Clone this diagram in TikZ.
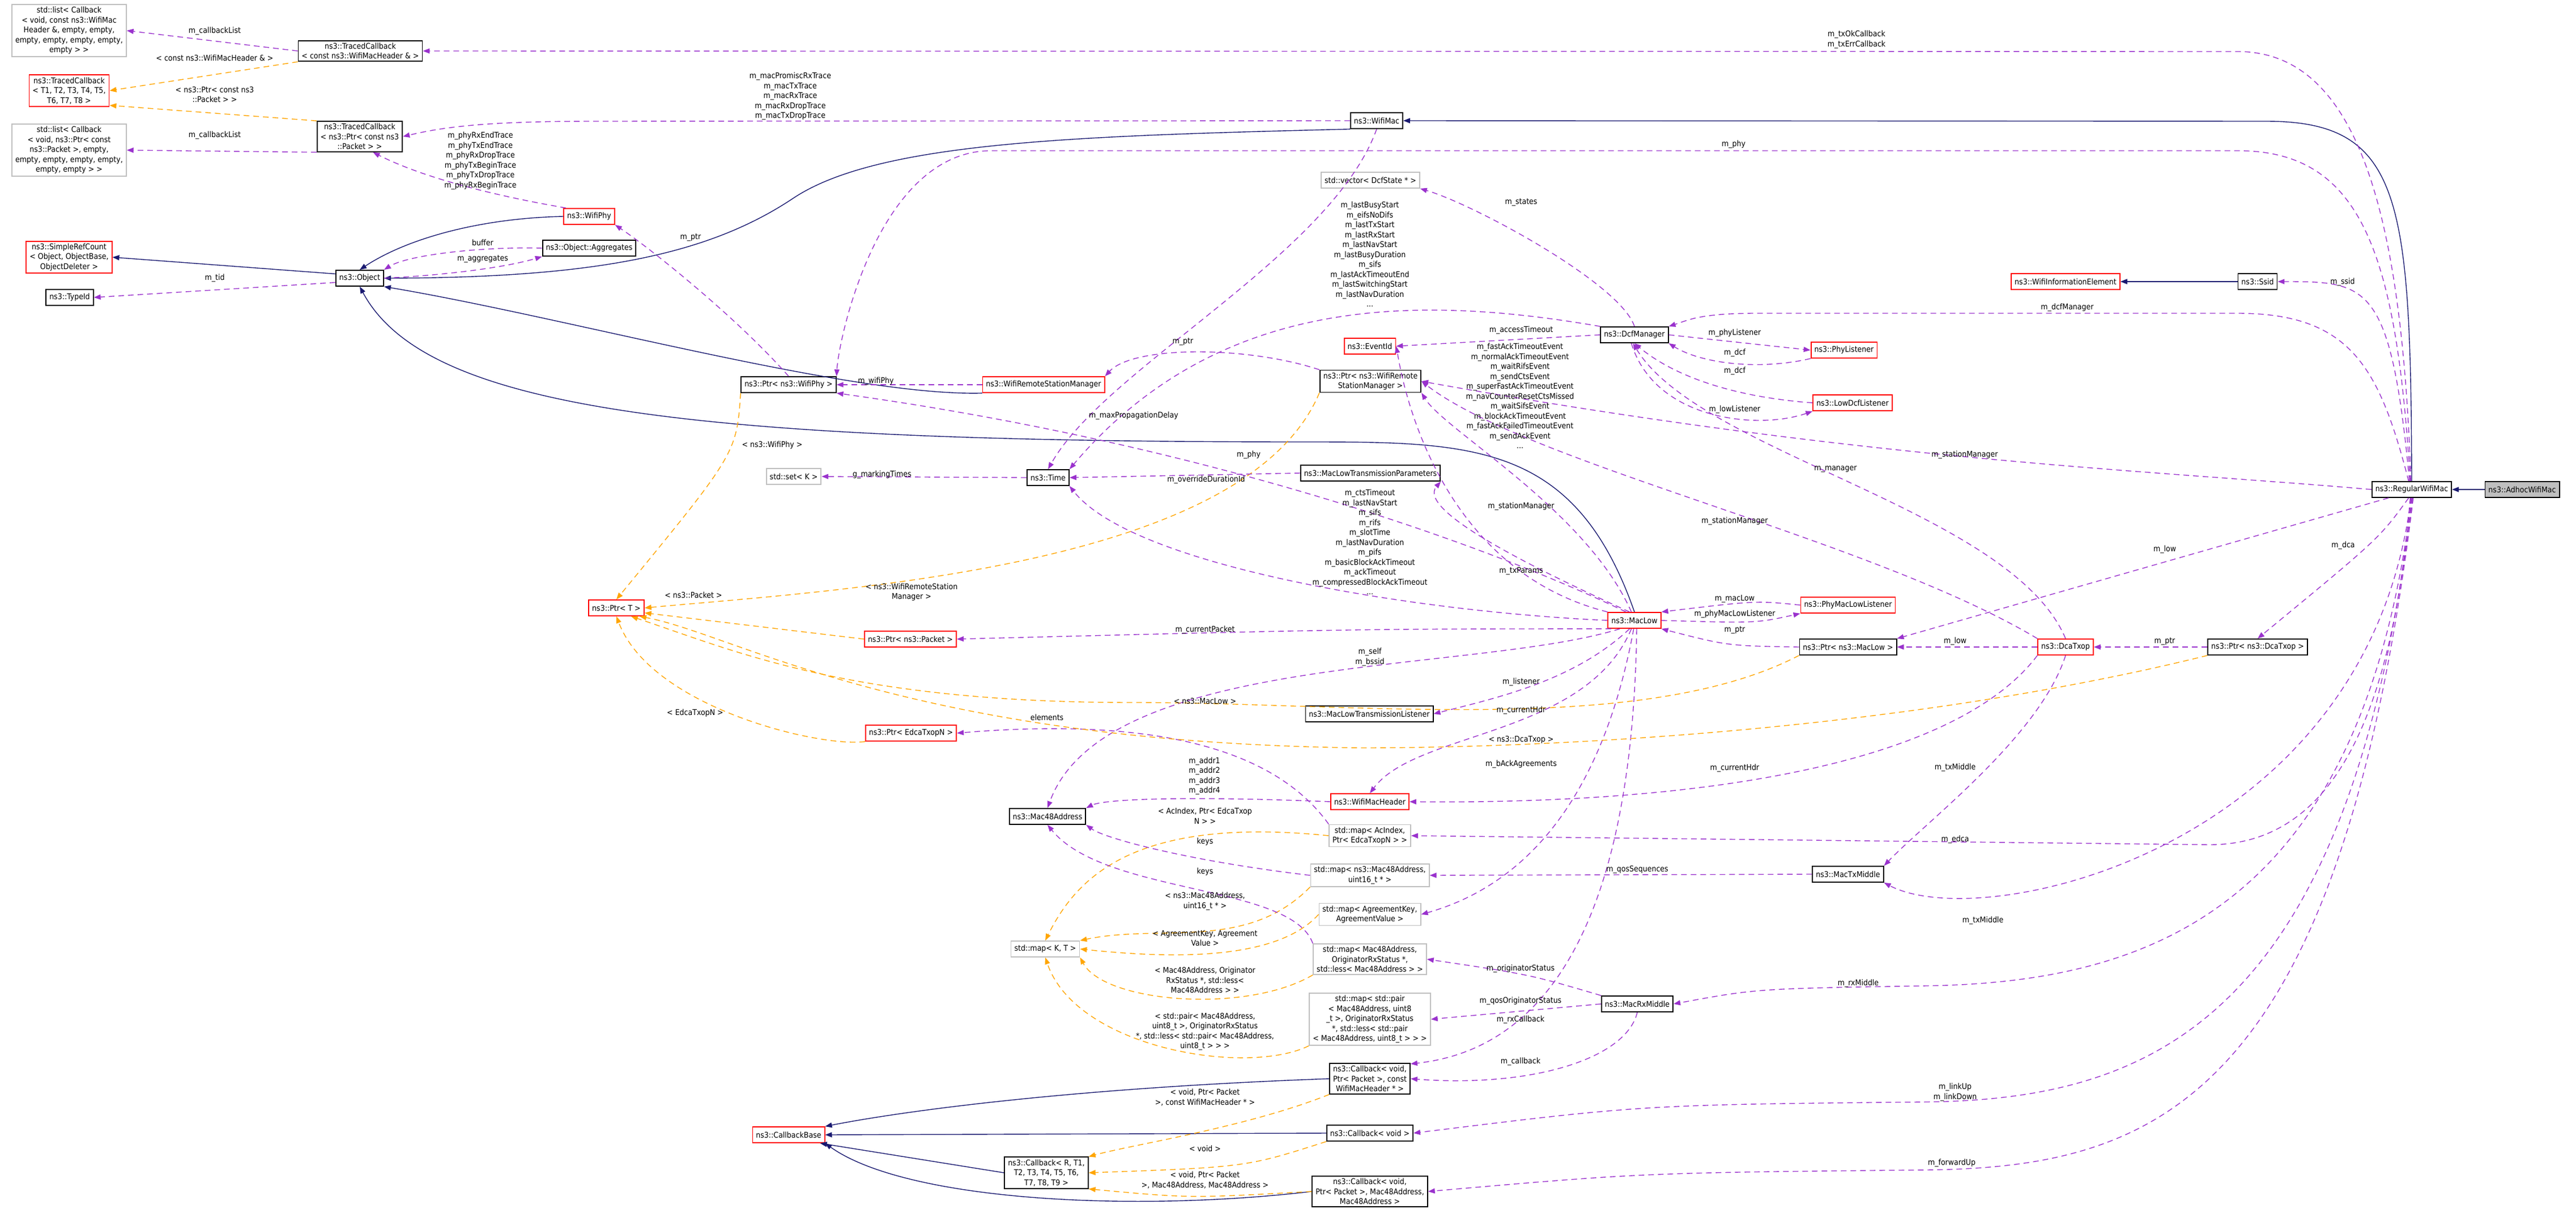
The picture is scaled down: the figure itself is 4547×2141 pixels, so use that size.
\documentclass[tikz,border=0pt]{standalone}
\usepackage{fontspec}
\setmainfont{DejaVu Sans Condensed}
\usetikzlibrary{arrows.meta}
\definecolor{pur}{HTML}{9A32CD}
\definecolor{org}{HTML}{FFA500}
\definecolor{nav}{HTML}{191970}
\definecolor{grb}{HTML}{BFBFBF}
\newcommand{\fs}{\fontsize{7}{8.75}\selectfont}
\tikzset{
 box/.style={draw=black, line width=0.9pt, fill=white, rectangle, align=center, inner xsep=3pt, inner ysep=2pt, minimum height=14pt, font=\fs},
 rbox/.style={box, draw=red},
 gbox/.style={box, draw=grb},
 lbl/.style={align=center, font=\fs, inner sep=0pt},
 tip/.style={-{Triangle[length=6pt,width=4.5pt]}},
 pe/.style={draw=pur, line width=0.7pt, dash pattern=on 5pt off 3.5pt, tip},
 oe/.style={pe, draw=org},
 ie/.style={draw=nav, line width=0.7pt, tip}
}
\begin{document}
\begin{tikzpicture}[x=0.5pt,y=-0.5pt]
\useasboundingbox (0,0) rectangle (4547,2141);
% nodes
\node[gbox] (lista) at (122,54) {std::list< Callback\\< void, const ns3::WifiMac\\Header \&, empty, empty,\\ empty, empty, empty, empty,\\ empty > >};
\node[box] (tca) at (636,90) {ns3::TracedCallback\\< const ns3::WifiMacHeader \& >};
\node[rbox] (tct) at (122,160) {ns3::TracedCallback\\< T1, T2, T3, T4, T5,\\ T6, T7, T8 >};
\node[gbox] (listb) at (122,265) {std::list< Callback\\< void, ns3::Ptr< const\\ ns3::Packet >, empty,\\ empty, empty, empty, empty,\\ empty, empty > >};
\node[box] (tcp) at (635,241) {ns3::TracedCallback\\< ns3::Ptr< const ns3\\::Packet > >};
\node[rbox] (src) at (122,454) {ns3::SimpleRefCount\\< Object, ObjectBase,\\ ObjectDeleter >};
\node[box] (object) at (635,491) {ns3::Object};
\node[box] (typeid) at (123,525) {ns3::TypeId};
\node[rbox] (wifiphy) at (1040,382) {ns3::WifiPhy};
\node[box] (agg) at (1040,438) {ns3::Object::Aggregates};
\node[box] (wifimac) at (2430,213) {ns3::WifiMac};
\node[box] (ptrwifiphy) at (1392,679) {ns3::Ptr< ns3::WifiPhy >};
\node[rbox] (wrsm) at (1842,679) {ns3::WifiRemoteStationManager};
\node[gbox] (set) at (1401,841) {std::set< K >};
\node[box] (time) at (1850,843) {ns3::Time};
\node[rbox] (ptrt) at (1088,1073) {ns3::Ptr< T >};
\node[rbox] (ptrpacket) at (1607,1128) {ns3::Ptr< ns3::Packet >};
\node[rbox] (ptredca) at (1608,1294) {ns3::Ptr< EdcaTxopN >};
\node[gbox] (vector) at (2419,318) {std::vector< DcfState * >};
\node[box] (dcf) at (2885,591) {ns3::DcfManager};
\node[rbox] (eventid) at (2418,611) {ns3::EventId};
\node[rbox] (phylis) at (3255,618) {ns3::PhyListener};
\node[rbox] (lowdcf) at (3270,711) {ns3::LowDcfListener};
\node[box] (ptrwrsm) at (2419,673) {ns3::Ptr< ns3::WifiRemote\\StationManager >};
\node[box] (mltp) at (2419,835) {ns3::MacLowTransmissionParameters};
\node[rbox] (maclow) at (2885,1095) {ns3::MacLow};
\node[rbox] (pmll) at (3262,1068) {ns3::PhyMacLowListener};
\node[box] (ptrmaclow) at (3262,1142) {ns3::Ptr< ns3::MacLow >};
\node[box] (mltl) at (2417,1260) {ns3::MacLowTransmissionListener};
\node[rbox] (wmh) at (2418,1415) {ns3::WifiMacHeader};
\node[box] (mac48) at (1849,1441) {ns3::Mac48Address};
\node[gbox] (mapac) at (2418,1475) {std::map< AcIndex,\\Ptr< EdcaTxopN > >};
\node[gbox] (mapmac) at (2418,1545) {std::map< ns3::Mac48Address,\\uint16\_t * >};
\node[gbox] (mapagr) at (2418,1614) {std::map< AgreementKey,\\AgreementValue >};
\node[gbox] (mapkt) at (1845,1675) {std::map< K, T >};
\node[gbox] (maporig) at (2418,1693) {std::map< Mac48Address,\\OriginatorRxStatus *,\\std::less< Mac48Address > >};
\node[gbox] (mappair) at (2418,1799) {std::map< std::pair\\< Mac48Address, uint8\\\_t >, OriginatorRxStatus\\ *, std::less< std::pair\\< Mac48Address, uint8\_t > > >};
\node[box] (macrx) at (2890,1772) {ns3::MacRxMiddle};
\node[box] (cba) at (2418,1904) {ns3::Callback< void,\\Ptr< Packet >, const\\WifiMacHeader * >};
\node[box] (cbv) at (2418,2000) {ns3::Callback< void >};
\node[box] (cbrt) at (1847,2070) {ns3::Callback< R, T1,\\T2, T3, T4, T5, T6,\\T7, T8, T9 >};
\node[box] (cbm) at (2418,2103) {ns3::Callback< void,\\Ptr< Packet >, Mac48Address,\\Mac48Address >};
\node[rbox] (cbbase) at (1392,2003) {ns3::CallbackBase};
\node[rbox] (dcatxop) at (3646,1142) {ns3::DcaTxop};
\node[box] (ptrdcatxop) at (3985,1142) {ns3::Ptr< ns3::DcaTxop >};
\node[box] (mactx) at (3262,1543) {ns3::MacTxMiddle};
\node[box] (rwm) at (4257,864) {ns3::RegularWifiMac};
\node[box, fill=grb] (adhoc) at (4452,864) {ns3::AdhocWifiMac};
\node[rbox] (wie) at (3646,497) {ns3::WifiInformationElement};
\node[box] (ssid) at (3985,497) {ns3::Ssid};
% inheritance
\draw[ie] (adhoc) -- (rwm);
\draw[ie] (ssid) -- (wie);
\draw[ie] (rwm.north) .. controls (4255,350) and (4240,214) .. (4000,214) -- (wifimac.east);
\draw[ie] (object.170) -- (src.east);
\draw[ie] (wifiphy.west) .. controls (850,385) and (720,420) .. (object.north);
\draw[ie] (wifimac.south west) .. controls (1900,240) and (1550,250) .. (1400,350) .. controls (1250,450) and (1050,490) .. (object.east);
\draw[ie] (wrsm.south west) .. controls (1500,700) and (1000,560) .. (object.south east);
\draw[ie] (maclow.north) .. controls (2780,780) and (2600,780) .. (2300,780) .. controls (1200,780) and (750,720) .. (object.south);
\draw[ie] (cba.west) .. controls (1900,1920) and (1600,1960) .. (cbbase.north east);
\draw[ie] (cbv.west) -- (cbbase.east);
\draw[ie] (cbm.west) .. controls (2000,2140) and (1600,2120) .. (cbbase.south east);
\draw[ie] (cbrt.west) -- (cbbase.-15);
% top-left
\draw[pe] (tca.west) -- (lista.east);
\draw[oe] (tca.south west) -- (tct.east);
\draw[oe] (tcp.160) -- (tct.-20);
\draw[pe] (tcp.200) -- (listb.east);
\draw[pe] (object.190) -- (typeid.east);
\draw[pe] (object.east) .. controls (800,485) and (900,470) .. (agg.south west);
\draw[pe] (agg.west) .. controls (850,435) and (720,450) .. (object.north east);
\draw[pe] (wifimac.west) -- (1050,214) .. controls (850,214) and (780,225) .. (tcp.east);
\draw[pe] (wifiphy.160) .. controls (900,350) and (760,320) .. (tcp.-50);
% RWM edges
\draw[pe] (rwm.95) .. controls (4240,400) and (4170,91) .. (3950,91) -- (tca.east);
\draw[pe] (rwm.100) .. controls (4230,450) and (4170,266) .. (3950,266) -- (1750,266) .. controls (1550,266) and (1480,600) .. (ptrwifiphy.north east);
\draw[pe] (rwm.105) .. controls (4220,500) and (4180,497) .. (ssid.east);
\draw[pe] (rwm.110) .. controls (4200,650) and (4150,553) .. (3950,553) -- (3100,553) .. controls (3000,553) and (2980,565) .. (dcf.north east);
\draw[pe] (rwm.west) .. controls (3800,830) and (3300,815) .. (ptrwrsm.east);
\draw[pe] (rwm.200) -- (ptrmaclow.north east);
\draw[pe] (rwm.250) .. controls (4200,950) .. (ptrdcatxop.north);
\draw[pe] (rwm.260) .. controls (4220,1300) and (4100,1491) .. (3900,1491) -- (mapac.east);
\draw[pe] (rwm.265) .. controls (4180,1500) and (3500,1650) .. (mactx.south east);
\draw[pe] (rwm.270) .. controls (4170,1600) and (3800,1734) .. (3400,1740) .. controls (3100,1745) .. (macrx.east);
\draw[pe] (rwm.275) .. controls (4150,1800) and (3800,1940) .. (3400,1945) .. controls (2900,1950) .. (cbv.east);
\draw[pe] (rwm.280) .. controls (4130,1950) and (3800,2060) .. (3400,2065) .. controls (2900,2070) .. (cbm.east);
% DcfManager
\draw[pe] (dcf.north) .. controls (2860,500) and (2600,360) .. (vector.south east);
\draw[pe] (dcf.north west) .. controls (2500,520) and (2150,520) .. (time.north east);
\draw[pe] (dcf.west) -- (eventid.east);
\draw[pe] (dcf.east) -- (phylis.west);
\draw[pe] (phylis.south west) .. controls (3100,655) and (3000,640) .. (dcf.south east);
\draw[pe] (lowdcf.west) .. controls (3050,700) and (2950,660) .. (dcf.south);
\draw[pe] (dcf.250) .. controls (2920,740) and (3100,760) .. (lowdcf.south west);
\draw[pe] (dcatxop.north) .. controls (3550,900) and (3000,800) .. (dcf.260);
% MacLow
\draw[pe] (maclow.north west) .. controls (2520,1000) and (2470,640) .. (eventid.east);
\draw[pe] (maclow.120) .. controls (2700,1000) and (2500,900) .. (mltp.south east);
\draw[pe] (maclow.110) .. controls (2800,900) and (2550,760) .. (ptrwrsm.south east);
\draw[pe] (dcatxop.north west) .. controls (3300,950) and (2700,820) .. (ptrwrsm.east);
\draw[pe] (maclow.135) .. controls (2600,950) and (2100,780) .. (ptrwifiphy.south east);
\draw[pe] (maclow.west) .. controls (2500,1080) and (2000,1000) .. (time.south east);
\draw[pe] (maclow.200) .. controls (2400,1110) .. (ptrpacket.east);
\draw[pe] (maclow.210) .. controls (2600,1190) and (1950,1150) .. (mac48.north);
\draw[pe] (maclow.240) .. controls (2780,1200) and (2650,1230) .. (mltl.east);
\draw[pe] (maclow.250) .. controls (2800,1300) and (2500,1290) .. (wmh.north);
\draw[pe] (maclow.265) .. controls (2830,1400) and (2700,1560) .. (mapagr.east);
\draw[pe] (maclow.285) .. controls (2880,1750) and (2650,1860) .. (cba.20);
\draw[pe] (pmll.west) .. controls (3100,1060) .. (maclow.north east);
\draw[pe] (maclow.east) .. controls (3100,1100) .. (pmll.south west);
\draw[pe] (ptrmaclow.west) .. controls (3050,1140) .. (maclow.south east);
\draw[pe] (dcatxop.west) -- (ptrmaclow.east);
\draw[pe] (ptrdcatxop.west) -- (dcatxop.east);
\draw[pe] (dcatxop.south west) .. controls (3450,1350) and (3000,1420) .. (wmh.east);
\draw[pe] (dcatxop.south) .. controls (3600,1300) and (3400,1450) .. (mactx.north east);
\draw[pe] (mactx.west) -- (mapmac.east);
\draw[pe] (macrx.north west) .. controls (2700,1720) .. (maporig.east);
\draw[pe] (macrx.west) -- (mappair.east);
\draw[pe] (macrx.south) .. controls (2870,1870) and (2700,1920) .. (cba.east);
% maps
\draw[oe] (mapac.west) .. controls (2000,1440) and (1900,1550) .. (mapkt.north);
\draw[oe] (mapmac.south west) .. controls (2200,1680) and (2050,1630) .. (mapkt.north east);
\draw[oe] (mapagr.west) .. controls (2250,1700) and (2050,1690) .. (mapkt.east);
\draw[oe] (maporig.south west) .. controls (2200,1790) and (1950,1770) .. (mapkt.south east);
\draw[oe] (mappair.south west) .. controls (2200,1900) and (1900,1850) .. (mapkt.south);
\draw[pe] (mapmac.west) .. controls (2100,1520) and (1950,1480) .. (mac48.south east);
\draw[pe] (maporig.north west) .. controls (2280,1560) and (1950,1580) .. (mac48.south);
\draw[pe] (wmh.west) .. controls (2100,1405) and (1950,1410) .. (mac48.north east);
\draw[pe] (mapac.north west) .. controls (2270,1350) and (2100,1260) .. (ptredca.east);
\draw[oe] (cba.south west) .. controls (2200,1990) and (2000,2020) .. (cbrt.north east);
\draw[oe] (cbv.south west) .. controls (2200,2060) .. (cbrt.east);
\draw[oe] (cbm.west) .. controls (2100,2115) .. (cbrt.south east);
% Ptr<T>
\draw[oe] (ptrwifiphy.south west) .. controls (1300,800) .. (ptrt.north);
\draw[oe] (ptrwrsm.south west) .. controls (2200,1000) and (1500,1040) .. (ptrt.east);
\draw[oe] (ptrpacket.west) -- (ptrt.-10);
\draw[oe] (ptredca.south west) .. controls (1450,1320) and (1150,1250) .. (ptrt.south);
\draw[oe] (ptrmaclow.south west) .. controls (2900,1300) and (2400,1240) .. (2000,1240) .. controls (1500,1240) and (1300,1150) .. (ptrt.-30);
\draw[oe] (ptrdcatxop.south west) .. controls (3400,1280) and (2800,1320) .. (2400,1320) .. controls (1600,1310) and (1300,1120) .. (ptrt.-20);
% others
\draw[pe] (wrsm.west) -- (ptrwifiphy.east);
\draw[pe] (ptrwifiphy.north) .. controls (1300,560) and (1150,440) .. (wifiphy.south east);
\draw[pe] (ptrwrsm.north west) .. controls (2200,610) and (2000,610) .. (wrsm.north east);
\draw[pe] (wifimac.south) .. controls (2350,450) and (1950,650) .. (time.north);
\draw[pe] (time.west) -- (set.east);
\draw[pe] (mltp.west) -- (time.east);
% labels
\node[lbl] (l1) at (379,55) {m\_callbackList};
\node[lbl] (l2) at (379,102) {< const ns3::WifiMacHeader \& >};
\node[lbl] (l3) at (379,167) {< ns3::Ptr< const ns3\\::Packet > >};
\node[lbl] (l4) at (379,239) {m\_callbackList};
\node[lbl] (l5) at (852,428) {buffer};
\node[lbl] (l6) at (852,457) {m\_aggregates};
\node[lbl] (l7) at (379,491) {m\_tid};
\node[lbl] (l8) at (1395,170) {m\_macPromiscRxTrace\\m\_macTxTrace\\m\_macRxTrace\\m\_macRxDropTrace\\m\_macTxDropTrace};
\node[lbl] (l9) at (848,284) {m\_phyRxEndTrace\\m\_phyTxEndTrace\\m\_phyRxDropTrace\\m\_phyTxBeginTrace\\m\_phyTxDropTrace\\m\_phyRxBeginTrace};
\node[lbl] (l10) at (1219,419) {m\_ptr};
\node[lbl] (l11) at (3277,70) {m\_txOkCallback\\m\_txErrCallback};
\node[lbl] (l12) at (3060,255) {m\_phy};
\node[lbl] (l13) at (3649,543) {m\_dcfManager};
\node[lbl] (l14) at (4135,498) {m\_ssid};
\node[lbl] (l15) at (2685,357) {m\_states};
\node[lbl] (l16) at (2418,449) {m\_lastBusyStart\\m\_eifsNoDifs\\m\_lastTxStart\\m\_lastRxStart\\m\_lastNavStart\\m\_lastBusyDuration\\m\_sifs\\m\_lastAckTimeoutEnd\\m\_lastSwitchingStart\\m\_lastNavDuration\\...};
\node[lbl] (l17) at (2685,583) {m\_accessTimeout};
\node[lbl] (l18) at (2683,699) {m\_fastAckTimeoutEvent\\m\_normalAckTimeoutEvent\\m\_waitRifsEvent\\m\_sendCtsEvent\\m\_superFastAckTimeoutEvent\\m\_navCounterResetCtsMissed\\m\_waitSifsEvent\\m\_blockAckTimeoutEvent\\m\_fastAckFailedTimeoutEvent\\m\_sendAckEvent\\...};
\node[lbl] (l19) at (3062,588) {m\_phyListener};
\node[lbl] (l20) at (3062,623) {m\_dcf};
\node[lbl] (l21) at (3062,655) {m\_dcf};
\node[lbl] (l22) at (3062,723) {m\_lowListener};
\node[lbl] (l23) at (3240,828) {m\_manager};
\node[lbl] (l24) at (3468,803) {m\_stationManager};
\node[lbl] (l25) at (2001,734) {m\_maxPropagationDelay};
\node[lbl] (l26) at (1546,673) {m\_wifiPhy};
\node[lbl] (l27) at (2088,603) {m\_ptr};
\node[lbl] (l28) at (2204,803) {m\_phy};
\node[lbl] (l29) at (1363,786) {< ns3::WifiPhy >};
\node[lbl] (l30) at (1557,838) {g\_markingTimes};
\node[lbl] (l31) at (2129,847) {m\_overrideDurationId};
\node[lbl] (l32) at (2418,957) {m\_ctsTimeout\\m\_lastNavStart\\m\_sifs\\m\_rifs\\m\_slotTime\\m\_lastNavDuration\\m\_pifs\\m\_basicBlockAckTimeout\\m\_ackTimeout\\m\_compressedBlockAckTimeout\\...};
\node[lbl] (l33) at (2685,894) {m\_stationManager};
\node[lbl] (l34) at (3062,920) {m\_stationManager};
\node[lbl] (l35) at (2685,1008) {m\_txParams};
\node[lbl] (l36) at (1609,1045) {< ns3::WifiRemoteStation\\Manager >};
\node[lbl] (l37) at (1224,1050) {< ns3::Packet >};
\node[lbl] (l38) at (2127,1112) {m\_currentPacket};
\node[lbl] (l39) at (3062,1057) {m\_macLow};
\node[lbl] (l40) at (3062,1084) {m\_phyMacLowListener};
\node[lbl] (l41) at (3062,1112) {m\_ptr};
\node[lbl] (l42) at (3451,1132) {m\_low};
\node[lbl] (l43) at (3821,1132) {m\_ptr};
\node[lbl] (l44) at (3821,970) {m\_low};
\node[lbl] (l45) at (4136,963) {m\_dca};
\node[lbl] (l46) at (2418,1160) {m\_self\\m\_bssid};
\node[lbl] (l47) at (2685,1204) {m\_listener};
\node[lbl] (l48) at (2685,1254) {m\_currentHdr};
\node[lbl] (l49) at (2127,1237) {< ns3::MacLow >};
\node[lbl] (l50) at (1848,1266) {elements};
\node[lbl] (l51) at (1227,1259) {< EdcaTxopN >};
\node[lbl] (l52) at (2685,1306) {< ns3::DcaTxop >};
\node[lbl] (l53) at (2685,1349) {m\_bAckAgreements};
\node[lbl] (l54) at (3062,1356) {m\_currentHdr};
\node[lbl] (l55) at (3451,1355) {m\_txMiddle};
\node[lbl] (l56) at (2126,1370) {m\_addr1\\m\_addr2\\m\_addr3\\m\_addr4};
\node[lbl] (l57) at (2127,1440) {< AcIndex, Ptr< EdcaTxop\\N > >};
\node[lbl] (l58) at (3451,1482) {m\_edca};
\node[lbl] (l59) at (2127,1486) {keys};
\node[lbl] (l60) at (2127,1539) {keys};
\node[lbl] (l61) at (2890,1535) {m\_qosSequences};
\node[lbl] (l62) at (2127,1591) {< ns3::Mac48Address,\\uint16\_t * >};
\node[lbl] (l63) at (3500,1625) {m\_txMiddle};
\node[lbl] (l64) at (2127,1656) {< AgreementKey, Agreement\\Value >};
\node[lbl] (l65) at (2684,1710) {m\_originatorStatus};
\node[lbl] (l66) at (2127,1730) {< Mac48Address, Originator\\RxStatus *, std::less<\\Mac48Address > >};
\node[lbl] (l67) at (3280,1736) {m\_rxMiddle};
\node[lbl] (l68) at (2684,1767) {m\_qosOriginatorStatus};
\node[lbl] (l69) at (2684,1800) {m\_rxCallback};
\node[lbl] (l70) at (2127,1821) {< std::pair< Mac48Address,\\uint8\_t >, OriginatorRxStatus\\*, std::less< std::pair< Mac48Address,\\uint8\_t > > >};
\node[lbl] (l71) at (2684,1874) {m\_callback};
\node[lbl] (l72) at (3451,1928) {m\_linkUp\\m\_linkDown};
\node[lbl] (l73) at (2127,1937) {< void, Ptr< Packet\\>, const WifiMacHeader * >};
\node[lbl] (l74) at (2127,2027) {< void >};
\node[lbl] (l75) at (3445,2053) {m\_forwardUp};
\node[lbl] (l76) at (2127,2083) {< void, Ptr< Packet\\>, Mac48Address, Mac48Address >};
\end{tikzpicture}
\end{document}
